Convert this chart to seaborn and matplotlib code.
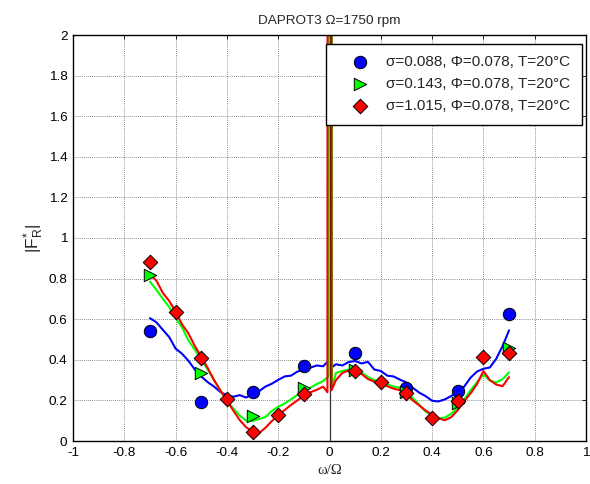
import numpy as np
import pandas as pd
import matplotlib
matplotlib.use("Agg")
import matplotlib.pyplot as plt
import seaborn as sns

# ---------------- data ----------------
labels = ["σ=0.088, Φ=0.078, T=20°C",
          "σ=0.143, Φ=0.078, T=20°C",
          "σ=1.015, Φ=0.078, T=20°C"]

# measured points (markers)
pts_x_blue = [-0.7, -0.5, -0.3, -0.1, 0.1, 0.3, 0.5, 0.7]
pts_y_blue = [0.54, 0.194, 0.24, 0.37, 0.435, 0.262, 0.248, 0.626]

pts_x_green = [-0.7, -0.5, -0.3, -0.1, 0.1, 0.3, 0.5, 0.7]
pts_y_green = [0.82, 0.336, 0.125, 0.262, 0.35, 0.24, 0.185, 0.46]

pts_x_red = [-0.7, -0.6, -0.5, -0.4, -0.3, -0.2, -0.1, 0.1, 0.2, 0.3, 0.4, 0.5, 0.6, 0.7]
pts_y_red = [0.88, 0.637, 0.41, 0.205, 0.046, 0.13, 0.23, 0.346, 0.289, 0.235, 0.115, 0.197, 0.412, 0.435]

# continuous curves
line_x_blue = [-0.700, -0.675, -0.650, -0.625, -0.600, -0.575, -0.550, -0.525, -0.500, -0.475,
               -0.450, -0.425, -0.400, -0.375, -0.350, -0.325, -0.300, -0.275, -0.250, -0.225,
               -0.200, -0.175, -0.150, -0.125, -0.100, -0.075, -0.050, -0.025, -0.006, -0.002,
               0.002, 0.006, 0.025, 0.050, 0.075, 0.100, 0.125, 0.150, 0.175, 0.200,
               0.225, 0.250, 0.275, 0.300, 0.325, 0.350, 0.375, 0.400, 0.425, 0.450,
               0.475, 0.500, 0.525, 0.550, 0.575, 0.600, 0.625, 0.650, 0.675, 0.700]
line_y_blue = [0.605, 0.585, 0.548, 0.512, 0.455, 0.430, 0.395, 0.352, 0.318, 0.290,
               0.268, 0.241, 0.225, 0.218, 0.226, 0.214, 0.232, 0.245, 0.268, 0.282,
               0.301, 0.318, 0.322, 0.342, 0.352, 0.361, 0.372, 0.368, 0.392, 25.0,
               25.0, 0.360, 0.378, 0.372, 0.389, 0.394, 0.382, 0.390, 0.352, 0.345,
               0.322, 0.318, 0.302, 0.288, 0.262, 0.238, 0.221, 0.198, 0.195, 0.205,
               0.222, 0.240, 0.268, 0.312, 0.342, 0.356, 0.362, 0.405, 0.468, 0.545]

line_x_green = [-0.700, -0.675, -0.650, -0.625, -0.600, -0.575, -0.550, -0.525, -0.500, -0.475,
                -0.450, -0.425, -0.400, -0.375, -0.350, -0.325, -0.300, -0.275, -0.250, -0.225,
                -0.200, -0.175, -0.150, -0.125, -0.100, -0.075, -0.050, -0.025, -0.004, 0.001,
                0.006, 0.010, 0.025, 0.050, 0.075, 0.100, 0.125, 0.150, 0.175, 0.200,
                0.225, 0.250, 0.275, 0.300, 0.325, 0.350, 0.375, 0.400, 0.425, 0.450,
                0.475, 0.500, 0.525, 0.550, 0.575, 0.600, 0.625, 0.650, 0.675, 0.700]
line_y_green = [0.785, 0.745, 0.700, 0.660, 0.605, 0.560, 0.495, 0.450, 0.400, 0.352,
                0.300, 0.248, 0.198, 0.160, 0.125, 0.100, 0.098, 0.108, 0.118, 0.148,
                0.168, 0.185, 0.205, 0.228, 0.250, 0.262, 0.280, 0.295, 0.318, 25.0,
                25.0, 0.260, 0.335, 0.345, 0.352, 0.355, 0.338, 0.315, 0.300, 0.292,
                0.280, 0.268, 0.262, 0.238, 0.212, 0.178, 0.145, 0.125, 0.112, 0.115,
                0.135, 0.162, 0.205, 0.250, 0.290, 0.328, 0.298, 0.288, 0.305, 0.338]

line_x_red = [-0.700, -0.675, -0.650, -0.625, -0.600, -0.575, -0.550, -0.525, -0.500, -0.475,
              -0.450, -0.425, -0.400, -0.375, -0.350, -0.325, -0.300, -0.275, -0.250, -0.225,
              -0.200, -0.175, -0.150, -0.125, -0.100, -0.075, -0.050, -0.025, -0.008, -0.003,
              0.003, 0.008, 0.025, 0.050, 0.075, 0.100, 0.125, 0.150, 0.175, 0.200,
              0.225, 0.250, 0.275, 0.300, 0.325, 0.350, 0.375, 0.400, 0.425, 0.450,
              0.475, 0.500, 0.525, 0.550, 0.575, 0.600, 0.625, 0.650, 0.675, 0.700]
line_y_red = [0.820, 0.790, 0.730, 0.690, 0.637, 0.575, 0.530, 0.468, 0.415, 0.360,
              0.300, 0.248, 0.200, 0.150, 0.103, 0.068, 0.046, 0.038, 0.065, 0.098,
              0.130, 0.152, 0.178, 0.200, 0.225, 0.240, 0.252, 0.268, 0.240, 25.0,
              25.0, 0.250, 0.300, 0.335, 0.348, 0.340, 0.330, 0.305, 0.292, 0.284,
              0.270, 0.258, 0.250, 0.228, 0.200, 0.175, 0.150, 0.130, 0.112, 0.102,
              0.118, 0.152, 0.195, 0.235, 0.280, 0.345, 0.300, 0.278, 0.270, 0.315]

x_ticks = [-1, -0.8, -0.6, -0.4, -0.2, 0, 0.2, 0.4, 0.6, 0.8, 1]
x_ticklabels = ["-1", "-0.8", "-0.6", "-0.4", "-0.2", "0", "0.2", "0.4", "0.6", "0.8", "1"]
y_ticks = [0, 0.2, 0.4, 0.6, 0.8, 1.0, 1.2, 1.4, 1.6, 1.8, 2.0]
y_ticklabels = ["0", "0.2", "0.4", "0.6", "0.8", "1", "1.2", "1.4", "1.6", "1.8", "2"]

title = "DAPROT3 Ω=1750 rpm"
xlabel = "ω/Ω"
ylabel = r"$|\mathregular{F^{*}_{R}}|$"

# ---------------- style ----------------
sns.set_style("white")
plt.rcParams["font.family"] = ["Liberation Sans", "DejaVu Sans"]
plt.rcParams["axes.unicode_minus"] = False
plt.rcParams["mathtext.fontset"] = "custom"
plt.rcParams["mathtext.rm"] = "Liberation Sans"
plt.rcParams["mathtext.it"] = "Liberation Sans"

fig = plt.figure(figsize=(5.9, 4.84), dpi=100)
ax = fig.add_axes([73 / 590, 1 - 441 / 484, (586 - 73) / 590, (441 - 35) / 484])

ax.axvline(0, color="#333333", lw=0.9, zorder=1.5)

curves = [
    (line_x_blue, line_y_blue, "#0000FF"),
    (line_x_green, line_y_green, "#00FF00"),
    (line_x_red, line_y_red, "#FF0000"),
]
for lx, ly, col in curves:
    sns.lineplot(x=lx, y=ly, color=col, lw=1.5, ax=ax, estimator=None, sort=False, zorder=2)

ax.axvline(0, color="#6a1500", lw=0.9, zorder=2.5, ymin=0.13)

marks = [
    (pts_x_blue, pts_y_blue, "#0000FF", "o", 80, labels[0]),
    (pts_x_green, pts_y_green, "#00FF00", ">", 80, labels[1]),
    (pts_x_red, pts_y_red, "#FF0000", "D", 55, labels[2]),
]
for px, py, col, mk, s, lab in marks:
    sns.scatterplot(x=px, y=py, color=col, marker=mk, s=s, edgecolor="black",
                    linewidth=0.7, ax=ax, zorder=3, label=lab)

ax.set_xlim(-1, 1)
ax.set_ylim(0, 2)
ax.set_xticks(x_ticks)
ax.set_xticklabels(x_ticklabels)
ax.set_yticks(y_ticks)
ax.set_yticklabels(y_ticklabels)
ax.tick_params(direction="in", top=True, right=True, length=3, width=0.6,
               labelsize=9.7, colors="black", pad=4)
ax.grid(True, linestyle=(0, (1, 1.5)), color="#666666", lw=0.6, zorder=0)
for sp in ax.spines.values():
    sp.set_color("black")
    sp.set_linewidth(1.0)

ax.set_title(title, fontsize=9.7, pad=8)
ax.set_xlabel(xlabel, fontsize=10.5, family=["Liberation Serif", "DejaVu Serif"], labelpad=4)
ax.set_ylabel(ylabel, fontsize=12.5, labelpad=2)

leg = ax.legend(loc="upper right", bbox_to_anchor=(0.992, 0.978), borderaxespad=0,
                fancybox=False, framealpha=1, edgecolor="black", fontsize=11,
                handletextpad=0.2, borderpad=0.75, labelspacing=0.52, handlelength=3.0)
leg.get_frame().set_linewidth(1.0)

fig.savefig("out.png", dpi=100)
